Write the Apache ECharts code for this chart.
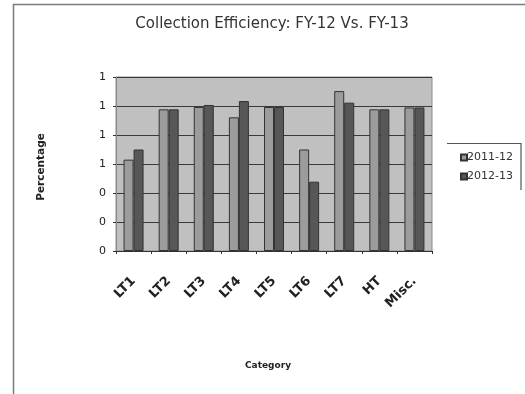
<!DOCTYPE html>
<html>
<head>
<meta charset="utf-8">
<script src="https://cdn.jsdelivr.net/npm/echarts@6/dist/echarts.min.js"></script>
<style>html,body{margin:0;padding:0;background:#fff;}#c{width:525px;height:394px;}</style>
</head>
<body>
<div id="c"></div>
<script>
var categories = ['LT1', 'LT2', 'LT3', 'LT4', 'LT5', 'LT6', 'LT7', 'HT', 'Misc.'];
var series2011 = [0.63, 0.977, 0.993, 0.922, 0.993, 0.70, 1.103, 0.977, 0.99];
var series2012 = [0.70, 0.977, 1.007, 1.034, 0.993, 0.478, 1.023, 0.977, 0.99];
var seriesNames = ['2011-12', '2012-13'];

var chart = echarts.init(document.getElementById('c'));
var font = 'DejaVu Sans, Liberation Sans, sans-serif';
chart.setOption({
  animation: false,
  backgroundColor: '#fff',
  title: {
    text: 'Collection Efficiency: FY-12 Vs. FY-13',
    left: 267, top: 12, textAlign: 'center',
    textStyle: { fontFamily: font, fontSize: 15, fontWeight: 'normal', color: '#333' }
  },
  legend: {
    orient: 'vertical', left: 455, top: 147,
    itemWidth: 6, itemHeight: 6, itemGap: 8,
    icon: 'rect',
    data: seriesNames,
    textStyle: { fontFamily: font, fontSize: 11, color: '#333', padding: [0, 0, 0, -5] }
  },
  grid: {
    left: 116, right: 93, top: 77, bottom: 143,
    show: true, backgroundColor: '#c0c0c0', borderColor: '#8a8a8a', borderWidth: 1
  },
  xAxis: {
    type: 'category', data: categories,
    axisLine: { lineStyle: { color: '#333' } },
    axisTick: { show: true, length: 3, lineStyle: { color: '#333' } },
    axisLabel: { rotate: 45, margin: 28, fontFamily: font, fontSize: 13, fontWeight: 'bold', color: '#222' }
  },
  yAxis: {
    type: 'value', min: 0, max: 1.2, interval: 0.2,
    axisLine: { show: true, lineStyle: { color: '#8a8a8a' } },
    axisTick: { show: true, length: 3, lineStyle: { color: '#333' } },
    splitLine: { show: true, lineStyle: { color: '#3a3a3a', width: 1 } },
    axisLabel: { margin: 10, fontFamily: font, fontSize: 11, color: '#222', formatter: function (v) { return Math.round(v); } }
  },
  graphic: [
    { type: 'rect', shape: { x: 13.5, y: 4.5, width: 700, height: 600 }, style: { fill: 'none', stroke: '#7a7a7a', lineWidth: 1.5 }, silent: true },
    { type: 'line', shape: { x1: 447, y1: 143.5, x2: 521, y2: 143.5 }, style: { stroke: '#555', lineWidth: 1.2 } },
    { type: 'line', shape: { x1: 521, y1: 143, x2: 521, y2: 190 }, style: { stroke: '#555', lineWidth: 1.2 } },
    { type: 'text', x: 41, y: 167, rotation: Math.PI / 2,
      style: { text: 'Percentage', fontFamily: font, fontSize: 10.5, fontWeight: 'bold', fill: '#222', align: 'center', verticalAlign: 'middle' } },
    { type: 'text', x: 268, y: 366,
      style: { text: 'Category', fontFamily: font, fontSize: 9, fontWeight: 'bold', fill: '#222', align: 'center', verticalAlign: 'middle' } }
  ],
  series: [
    { name: seriesNames[0], type: 'bar', data: series2011, barWidth: 10, barGap: '0%',
      itemStyle: { color: '#9c9c9c', borderColor: '#333', borderWidth: 1 } },
    { name: seriesNames[1], type: 'bar', data: series2012, barWidth: 10, barGap: '0%',
      itemStyle: { color: '#575757', borderColor: '#333', borderWidth: 1 } }
  ]
});
</script>
</body>
</html>
